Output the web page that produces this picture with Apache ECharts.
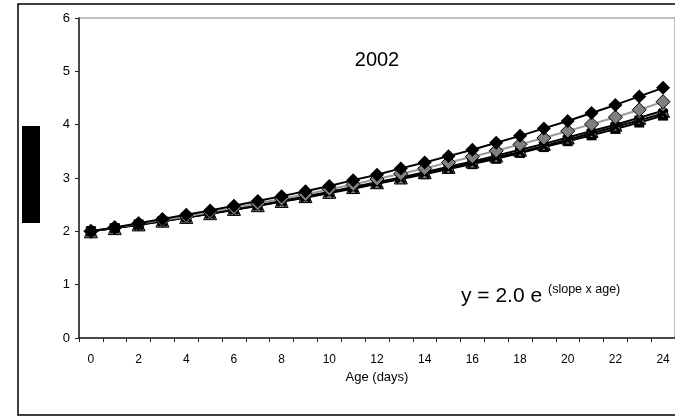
<!DOCTYPE html>
<html>
<head>
<meta charset="utf-8">
<script src="https://cdn.jsdelivr.net/npm/echarts@6/dist/echarts.min.js"></script>
<style>
  html, body { margin: 0; padding: 0; background: #fff; }
  #chart { width: 675px; height: 417px; }
</style>
</head>
<body>
<div id="chart"></div>
<script>
// ages 0..24 days
const ages = ['0','1','2','3','4','5','6','7','8','9','10','11','12','13','14','15','16','17','18','19','20','21','22','23','24']

// values, one array per series
const blackDiamond = [2.00, 2.07, 2.15, 2.23, 2.31, 2.39, 2.48, 2.57, 2.66, 2.75, 2.85, 2.96, 3.06, 3.18, 3.29, 3.41, 3.53, 3.66, 3.79, 3.93, 4.07, 4.22, 4.37, 4.53, 4.69]
const grayDiamond = [2.00, 2.07, 2.14, 2.21, 2.28, 2.36, 2.44, 2.52, 2.61, 2.69, 2.79, 2.88, 2.98, 3.08, 3.18, 3.29, 3.40, 3.51, 3.63, 3.75, 3.88, 4.01, 4.14, 4.28, 4.43]
const grayTriangle = [2.00, 2.06, 2.13, 2.20, 2.27, 2.34, 2.42, 2.49, 2.57, 2.66, 2.74, 2.83, 2.92, 3.01, 3.11, 3.21, 3.31, 3.42, 3.53, 3.64, 3.76, 3.88, 4.00, 4.13, 4.26]
const blackCross = [2.00, 2.06, 2.12, 2.19, 2.26, 2.33, 2.41, 2.48, 2.56, 2.64, 2.73, 2.81, 2.90, 2.99, 3.09, 3.18, 3.28, 3.39, 3.49, 3.60, 3.72, 3.84, 3.96, 4.08, 4.21]
const blackSquare = [2.00, 2.06, 2.13, 2.19, 2.26, 2.33, 2.40, 2.48, 2.56, 2.63, 2.72, 2.80, 2.89, 2.98, 3.07, 3.17, 3.26, 3.36, 3.47, 3.58, 3.69, 3.80, 3.92, 4.04, 4.17]

const yTicks = [0, 1, 2, 3, 4, 5, 6]

const font = 'Liberation Sans, Arial, sans-serif'
const crossPath = 'path://M0,2 L2,0 L5,3 L8,0 L10,2 L7,5 L10,8 L8,10 L5,7 L2,10 L0,8 L3,5 Z'
const chart = echarts.init(document.getElementById('chart'))

const mkSeries = (data, symbol, size, color, lineColor, z, border) => ({
  type: 'line',
  data,
  symbol,
  symbolSize: size,
  showSymbol: true,
  animation: false,
  z,
  lineStyle: { color: lineColor, width: 2 },
  itemStyle: { color, borderColor: '#000', borderWidth: border, opacity: 1 }
})

chart.setOption({
  animation: false,
  textStyle: { fontFamily: font },
  grid: {
    left: 79,
    top: 18,
    width: 600,
    height: 320,
    show: true,
    borderColor: '#808080',
    borderWidth: 1,
    backgroundColor: 'transparent'
  },
  xAxis: {
    type: 'category',
    data: ages,
    boundaryGap: true,
    name: 'Age (days)',
    nameLocation: 'middle',
    nameGap: 33,
    nameTextStyle: { fontFamily: font, fontSize: 13, color: '#000' },
    axisLine: { lineStyle: { color: '#222', width: 1.5 } },
    axisTick: { show: true, interval: 0, length: 4, lineStyle: { color: '#222' } },
    axisLabel: { interval: 1, margin: 16, fontFamily: font, fontSize: 12, color: '#000' },
    splitLine: { show: false }
  },
  yAxis: {
    type: 'value',
    min: yTicks[0],
    max: yTicks[yTicks.length - 1],
    interval: 1,
    axisLine: { show: true, lineStyle: { color: '#222', width: 1.5 } },
    axisTick: { show: true, length: 4, lineStyle: { color: '#222' } },
    axisLabel: { margin: 9, fontFamily: font, fontSize: 13, color: '#000' },
    splitLine: { show: false }
  },
  graphic: [
    {
      type: 'rect',
      shape: { x: 18, y: 4, width: 700, height: 411 },
      style: { fill: 'none', stroke: '#000', lineWidth: 1.5 },
      silent: true
    },
    {
      type: 'rect',
      shape: { x: 22, y: 126, width: 18, height: 97 },
      style: { fill: '#000' },
      silent: true
    },
    {
      type: 'text',
      x: 377,
      y: 60,
      style: { text: '2002', fontFamily: font, fontSize: 20, fill: '#000', align: 'center', verticalAlign: 'middle' }
    },
    {
      type: 'text',
      x: 461,
      y: 296,
      style: { text: 'y = 2.0 e', fontFamily: font, fontSize: 21, fill: '#000', align: 'left', verticalAlign: 'middle' }
    },
    {
      type: 'text',
      x: 548,
      y: 290,
      style: { text: '(slope x age)', fontFamily: font, fontSize: 12.5, fill: '#000', align: 'left', verticalAlign: 'middle' }
    }
  ],
  series: [
    mkSeries(blackSquare, 'rect', 10, '#000', '#000', 2, 0),
    mkSeries(grayTriangle, 'triangle', 13, '#808080', '#000', 3, 1),
    mkSeries(blackCross, crossPath, 11, '#000', '#000', 4, 0),
    mkSeries(grayDiamond, 'diamond', 14, '#808080', '#9a9a9a', 5, 1),
    mkSeries(blackDiamond, 'diamond', 14, '#000', '#000', 6, 0)
  ]
})
</script>
</body>
</html>
